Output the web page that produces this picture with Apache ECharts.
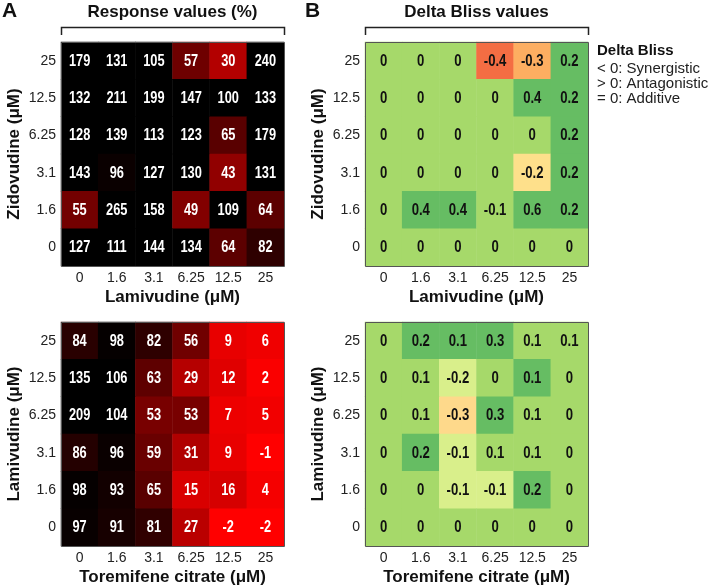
<!DOCTYPE html>
<html>
<head>
<meta charset="utf-8">
<script src="https://cdn.jsdelivr.net/npm/echarts@6/dist/echarts.min.js"></script>
<style>
html,body{margin:0;padding:0;background:#fff;}
#chart{width:716px;height:587px;}
</style>
</head>
<body>
<div id="chart"></div>
<script>
// ---- Data ----
const doseLabels = ['0', '1.6', '3.1', '6.25', '12.5', '25'];

// rows listed top (25 µM) to bottom (0 µM); columns 0 → 25 µM
const responseZidLam = [
  [179, 131, 105, 57, 30, 240],
  [132, 211, 199, 147, 100, 133],
  [128, 139, 113, 123, 65, 179],
  [143, 96, 127, 130, 43, 131],
  [55, 265, 158, 49, 109, 64],
  [127, 111, 144, 134, 64, 82]
];
const blissZidLam = [
  [0, 0, 0, -0.4, -0.3, 0.2],
  [0, 0, 0, 0, 0.4, 0.2],
  [0, 0, 0, 0, 0, 0.2],
  [0, 0, 0, 0, -0.2, 0.2],
  [0, 0.4, 0.4, -0.1, 0.6, 0.2],
  [0, 0, 0, 0, 0, 0]
];
const responseLamTor = [
  [84, 98, 82, 56, 9, 6],
  [135, 106, 63, 29, 12, 2],
  [209, 104, 53, 53, 7, 5],
  [86, 96, 59, 31, 9, -1],
  [98, 93, 65, 15, 16, 4],
  [97, 91, 81, 27, -2, -2]
];
// estimated unrounded values (cells shown as 0.1 differ in colour)
const blissLamTor = [
  [0, 0.2, 0.14, 0.3, 0.06, 0.06],
  [0, 0.06, -0.2, 0, 0.14, 0],
  [0, 0.06, -0.3, 0.3, 0.06, 0],
  [0, 0.2, -0.1, 0.06, 0.06, 0],
  [0, 0, -0.1, -0.1, 0.2, 0],
  [0, 0, 0, 0, 0, 0]
];

const panelTitles = ['Response values (%)', 'Delta Bliss values'];
const xNames = ['Lamivudine (μM)', 'Toremifene citrate (μM)'];
const yNames = ['Zidovudine (μM)', 'Lamivudine (μM)'];
const legendTitle = 'Delta Bliss';
const legendLines = ['< 0: Synergistic', '> 0: Antagonistic', '= 0: Additive'];

// ---- Build ----
function toCells(rows) {
  const out = [];
  rows.forEach((row, r) => row.forEach((v, c) => out.push([c, rows.length - 1 - r, v])));
  return out;
}
const FONT = "'Liberation Sans', Arial, sans-serif";

const grids = [
  {left: 61, top: 42, width: 223, height: 224},
  {left: 365, top: 42, width: 223, height: 224},
  {left: 61, top: 322, width: 223, height: 224},
  {left: 365, top: 322, width: 223, height: 224}
];
const xNameIdx = [0, 0, 1, 1];
const yNameIdx = [0, 0, 1, 1];

const xAxis = grids.map((g, i) => ({
  type: 'category', gridIndex: i, data: doseLabels,
  axisLine: {show: false}, axisTick: {show: false}, splitArea: {show: false},
  axisLabel: {color: '#222', fontSize: 14, fontFamily: FONT, margin: 5},
  name: xNames[xNameIdx[i]], nameLocation: 'middle', nameGap: 23,
  nameTextStyle: {fontSize: 17, fontWeight: 'bold', color: '#111', fontFamily: FONT}
}));
const yAxis = grids.map((g, i) => ({
  type: 'category', gridIndex: i, data: doseLabels,
  axisLine: {show: false}, axisTick: {show: false}, splitArea: {show: false},
  axisLabel: {color: '#222', fontSize: 14, fontFamily: FONT, margin: 5},
  name: yNames[yNameIdx[i]], nameLocation: 'middle', nameGap: 38,
  nameTextStyle: {fontSize: 17, fontWeight: 'bold', color: '#111', fontFamily: FONT}
}));

function fmtResp(v) { return String(v); }
function fmtBliss(v) { return v === 0 ? '0' : v.toFixed(1); }

function labelSeries(idx, cells, fmt, color, size, sx) {
  return {
    type: 'custom', xAxisIndex: idx, yAxisIndex: idx, data: cells, z: 10, silent: true,
    encode: {x: 0, y: 1},
    renderItem: function (params, api) {
      const p = api.coord([api.value(0), api.value(1)]);
      return {
        type: 'text', x: p[0], y: p[1] + 0.5, scaleX: sx,
        style: {text: fmt(api.value(2)), font: 'bold ' + size + 'px ' + FONT, fill: color,
                align: 'center', verticalAlign: 'middle'}
      };
    }
  };
}

const cellsA1 = toCells(responseZidLam), cellsB1 = toCells(blissZidLam);
const cellsA2 = toCells(responseLamTor), cellsB2 = toCells(blissLamTor);

const series = [
  {type: 'heatmap', xAxisIndex: 0, yAxisIndex: 0, data: cellsA1},
  {type: 'heatmap', xAxisIndex: 1, yAxisIndex: 1, data: cellsB1},
  {type: 'heatmap', xAxisIndex: 2, yAxisIndex: 2, data: cellsA2},
  {type: 'heatmap', xAxisIndex: 3, yAxisIndex: 3, data: cellsB2}
].map(s => Object.assign(s, {emphasis: {disabled: true}, itemStyle: {borderWidth: 0}, label: {show: false}}));
series.push(
  labelSeries(0, cellsA1, fmtResp, '#fff', 16, 0.8),
  labelSeries(1, cellsB1, fmtBliss, '#111', 16, 0.82),
  labelSeries(2, cellsA2, fmtResp, '#fff', 16, 0.8),
  labelSeries(3, cellsB2, fmtBliss, '#111', 16, 0.82)
);

const visualMap = [
  {type: 'continuous', seriesIndex: [0, 2], min: 0, max: 100, show: false, dimension: 2,
   inRange: {color: ['#ff0000', '#000000']}},
  {type: 'piecewise', seriesIndex: 1, show: false, dimension: 2, pieces: [
    {lte: -0.35, color: '#f46d43'},
    {gt: -0.35, lte: -0.25, color: '#fdae61'},
    {gt: -0.25, lte: -0.15, color: '#fee08b'},
    {gt: -0.15, lte: 0.1, color: '#a6d96a'},
    {gt: 0.1, color: '#66bd63'}
  ]},
  {type: 'piecewise', seriesIndex: 3, show: false, dimension: 2, pieces: [
    {lte: -0.25, color: '#fed98b'},
    {gt: -0.25, lte: -0.05, color: '#d9ef8b'},
    {gt: -0.05, lte: 0.1, color: '#a6d96a'},
    {gt: 0.1, color: '#66bd63'}
  ]}
];

const graphic = [];
// panel borders
grids.forEach(g => graphic.push({
  type: 'rect', z: 100, silent: true,
  shape: {x: g.left + 0.5, y: g.top + 0.5, width: g.width, height: g.height},
  style: {fill: 'none', stroke: '#555', lineWidth: 1}
}));
// top titles with brackets
[0, 1].forEach(i => {
  const g = grids[i];
  graphic.push({
    type: 'text', z: 100, x: g.left + g.width / 2, y: 12,
    style: {text: panelTitles[i], font: 'bold 17px ' + FONT, fill: '#111', align: 'center', verticalAlign: 'middle'}
  });
  graphic.push({
    type: 'polyline', z: 100, silent: true,
    shape: {points: [[g.left + 0.5, 35], [g.left + 0.5, 27.5], [g.left + g.width + 0.5, 27.5], [g.left + g.width + 0.5, 35]]},
    style: {stroke: '#222', lineWidth: 1.5, fill: 'none'}
  });
});
// panel letters
graphic.push({type: 'text', x: 2, y: 1, style: {text: 'A', font: 'bold 21px ' + FONT, fill: '#111'}});
graphic.push({type: 'text', x: 305, y: 1, style: {text: 'B', font: 'bold 21px ' + FONT, fill: '#111'}});
// legend text
graphic.push({type: 'text', x: 597, y: 51, style: {text: legendTitle, font: 'bold 15px ' + FONT, fill: '#111', verticalAlign: 'middle'}});
legendLines.forEach((t, k) => graphic.push({
  type: 'text', x: 597, y: 69 + k * 15,
  style: {text: t, font: '15px ' + FONT, fill: '#222', verticalAlign: 'middle'}
}));

const chart = echarts.init(document.getElementById('chart'), null, {renderer: 'canvas'});
chart.setOption({
  animation: false,
  backgroundColor: '#fff',
  grid: grids,
  xAxis, yAxis, series, visualMap, graphic
});
</script>
</body>
</html>
